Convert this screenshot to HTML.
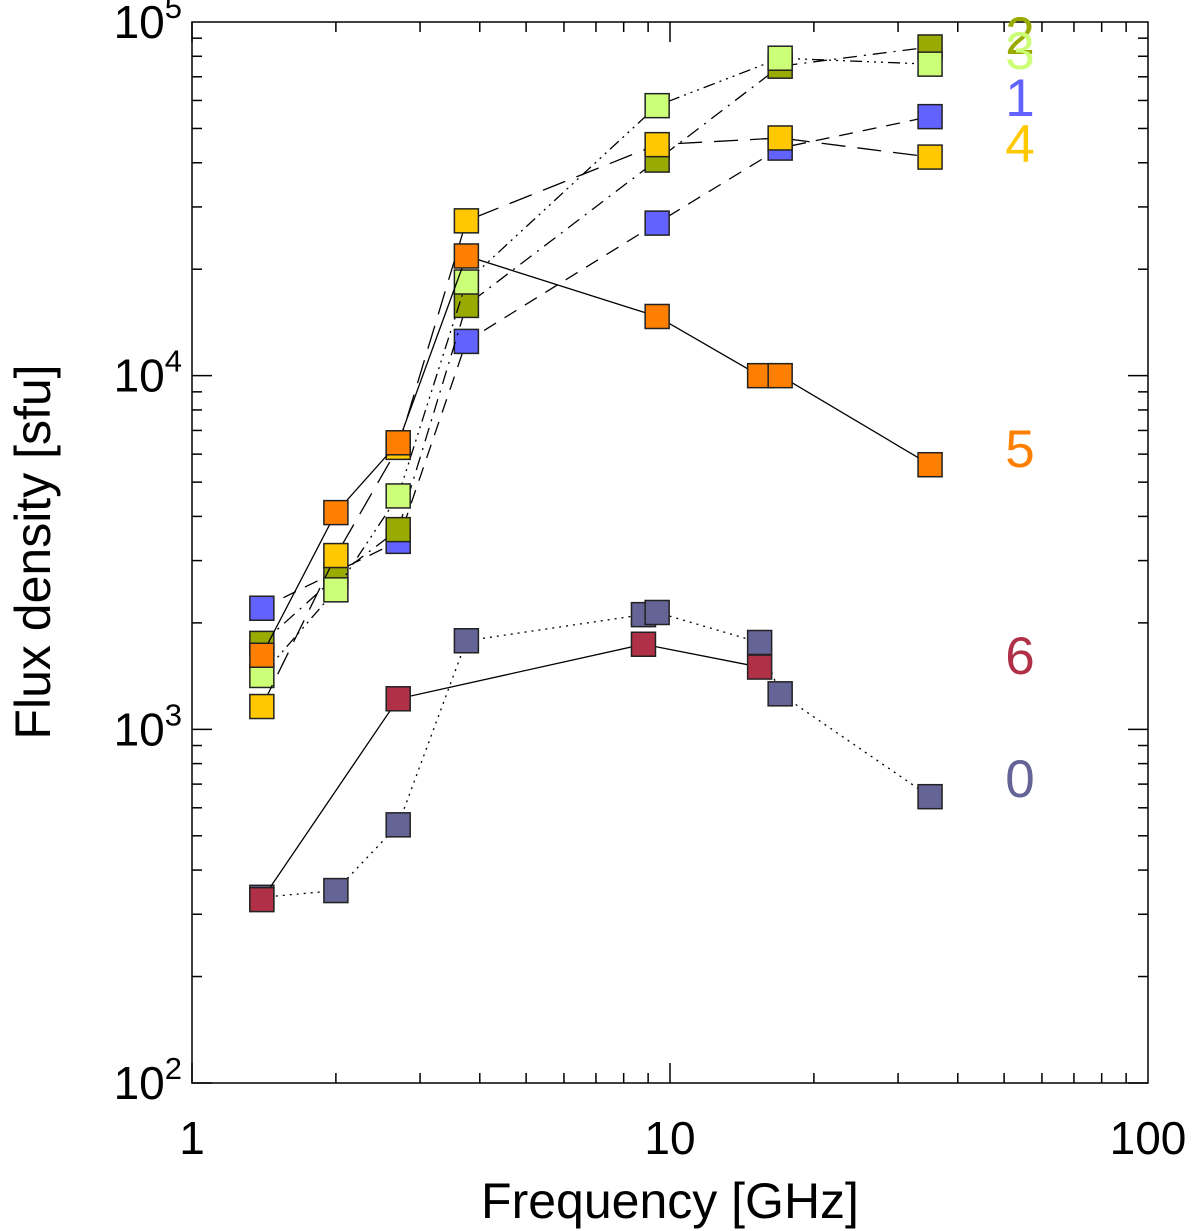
<!DOCTYPE html>
<html><head><meta charset="utf-8"><style>body{margin:0;background:#fff}svg{display:block;font-family:"Liberation Sans",sans-serif}</style></head>
<body>
<svg id="chart" width="1200" height="1231"></svg>
<script>
const freqs = {
 s0:[1.4,2.0,2.7,3.75,8.8,9.4,15.4,17,35],
 s1:[1.4,2.7,3.75,9.4,17,35],
 s2:[1.4,2.0,2.7,3.75,9.4,17,35],
 s3:[1.4,2.0,2.7,3.75,9.4,17,35],
 s4:[1.4,2.0,2.7,3.75,9.4,17,35],
 s5:[1.4,2.0,2.7,3.75,9.4,15.4,17,35],
 s6:[1.4,2.7,8.8,15.4]
};
const flux0 = [335,350,537,1780,2110,2140,1760,1260,645];
const flux1 = [2200,3400,12500,27000,44000,54000];
const flux2 = [1750,2700,3670,15800,40700,75000,85000];
const flux3 = [1420,2480,4570,18400,58000,79000,76000];
const flux4 = [1160,3100,6270,27400,45000,47000,41500];
const flux5 = [1620,4100,6460,21800,14700,10000,10000,5600];
const flux6 = [330,1220,1740,1500];
const seriesLabels = ["0","1","2","3","4","5","6"];
const labelY = [778,97,35,50,143,448,655];
const xTickLabels = ["1","10","100"];
const yTickExp = ["2","3","4","5"];

const colors=["#646496","#6262ff","#99aa00","#ccff77","#ffc800","#ff7f00","#b03048"];
const dashes=["2,5","14,10","14,7,2,7","12,5,2,5,2,5,2,5","24,12",null,null];
const fluxes=[flux0,flux1,flux2,flux3,flux4,flux5,flux6];
const fr=[freqs.s0,freqs.s1,freqs.s2,freqs.s3,freqs.s4,freqs.s5,freqs.s6];
const X0=192,X1=1148,Y0=22,Y1=1083;
const xs=f=>X0+(Math.log10(f)-0)/2*(X1-X0);
const ys=v=>Y1-(Math.log10(v)-2)/3*(Y1-Y0);
const svg=document.getElementById('chart');const NS='http://www.w3.org/2000/svg';
function mk(t,a,p){const e=document.createElementNS(NS,t);for(const k in a)e.setAttribute(k,a[k]);(p||svg).appendChild(e);return e;}
const frame=mk('rect',{x:X0,y:Y0,width:X1-X0,height:Y1-Y0,fill:'none',stroke:'#000','stroke-width':1.5});


for(let d=0;d<2;d++)for(let m=1;m<10;m++){const x=xs(Math.pow(10,d)*m);const L=m==1?20:10;
 mk('line',{x1:x,x2:x,y1:Y1,y2:Y1-L,stroke:'#000','stroke-width':1.5});mk('line',{x1:x,x2:x,y1:Y0,y2:Y0+L,stroke:'#000','stroke-width':1.5});}
for(let d=2;d<5;d++)for(let m=1;m<10;m++){const y=ys(Math.pow(10,d)*m);const L=m==1?20:10;
 mk('line',{x1:X0,x2:X0+L,y1:y,y2:y,stroke:'#000','stroke-width':1.5});mk('line',{x1:X1,x2:X1-L,y1:y,y2:y,stroke:'#000','stroke-width':1.5});}
xTickLabels.forEach((t,i)=>{const e=mk('text',{x:xs(Math.pow(10,i)),y:1154,'font-size':46,'text-anchor':'middle'});e.textContent=t;
 
 });
yTickExp.forEach((t,i)=>{const y=ys(Math.pow(10,i+2));const e=mk('text',{x:182,y:y+16,'font-size':46,'text-anchor':'end'});
 e.innerHTML='10<tspan dy="-20" font-size="31">'+t+'</tspan>';
 
 });
const xt=mk('text',{x:670,y:1218,'font-size':50,'text-anchor':'middle'});xt.textContent='Frequency [GHz]';


const yt=mk('text',{x:0,y:0,'font-size':50,'text-anchor':'middle',transform:'translate(50,552) rotate(-90)'});yt.textContent='Flux density [sfu]';


for(let s=0;s<7;s++){
 const g=mk('g',{});
 
 
 const pts=fr[s].map((f,i)=>xs(f)+','+ys(fluxes[s][i])).join(' ');
 const pl=mk('polyline',{points:pts,fill:'none',stroke:'#000','stroke-width':1.3},g);
 if(dashes[s])pl.setAttribute('stroke-dasharray',dashes[s]);
 fr[s].forEach((f,i)=>{const r=mk('rect',{x:xs(f)-12,y:ys(fluxes[s][i])-12,width:24,height:24,fill:colors[s],stroke:'#222','stroke-width':1.5},g);
  
  });
 const lb=mk('text',{x:1020,y:labelY[s]+19,'font-size':53,'text-anchor':'middle',fill:colors[s]});lb.textContent=seriesLabels[s];
 
 
}
</script>
</body></html>
